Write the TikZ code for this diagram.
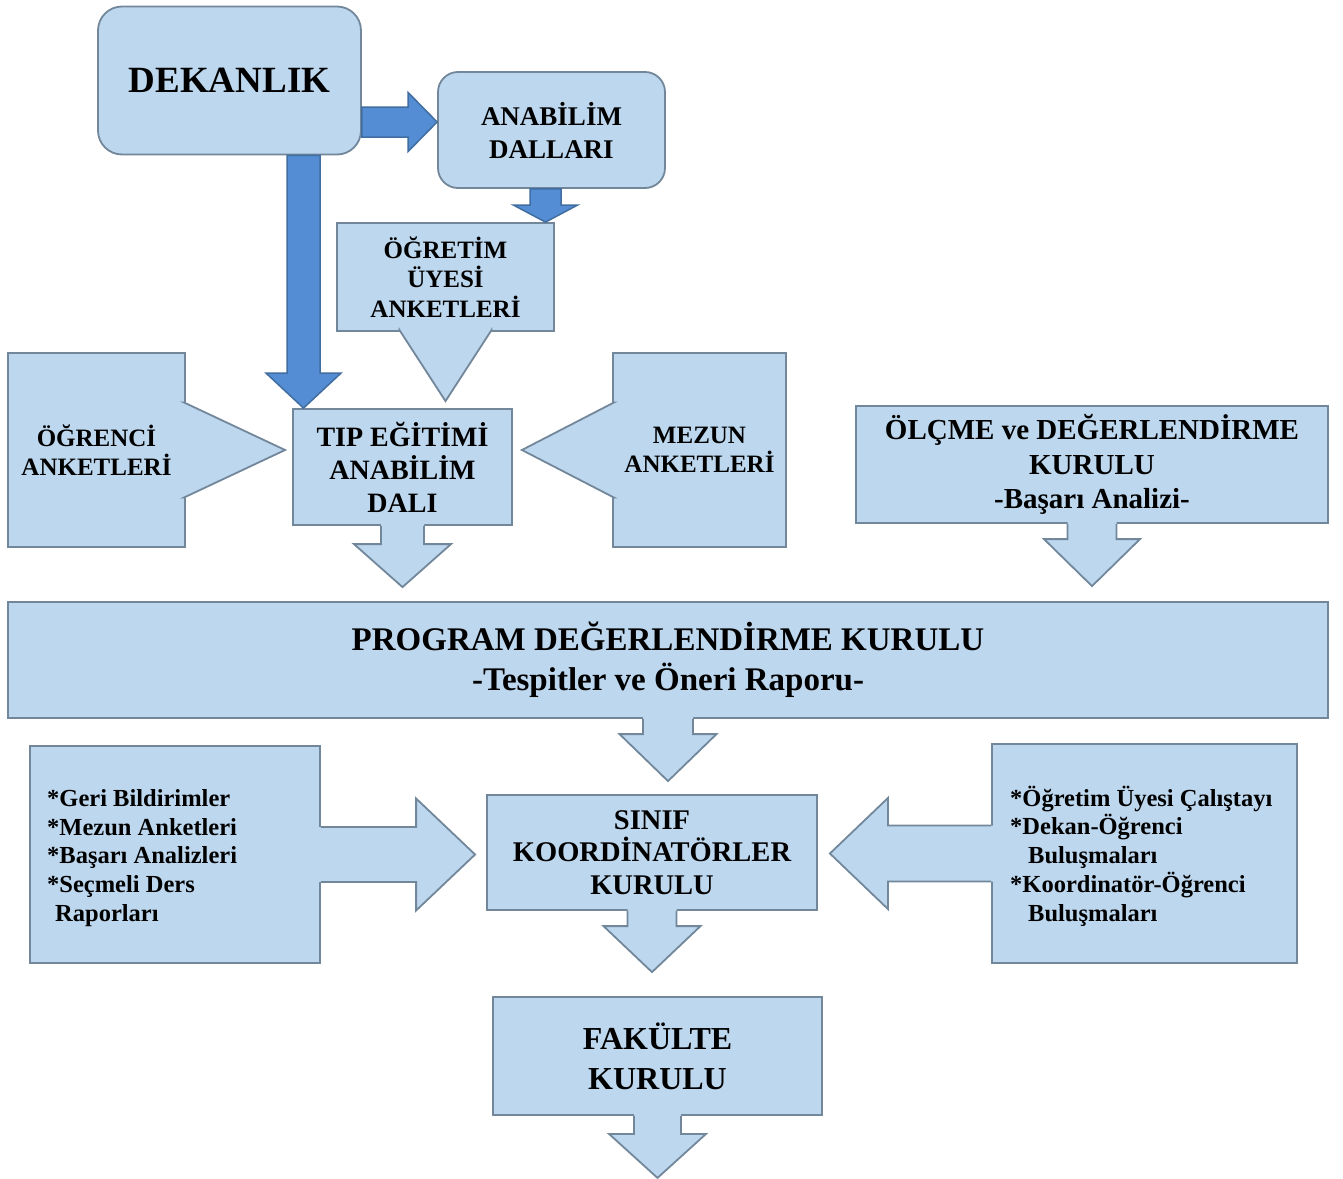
\documentclass[tikz,border=0pt]{standalone}
\usepackage{fontspec}
\setmainfont{LiberationSerif}[Extension=.ttf, UprightFont=*-Regular, BoldFont=*-Bold, ItalicFont=*-Italic, BoldItalicFont=*-BoldItalic]
\usetikzlibrary{calc}
\definecolor{boxfill}{RGB}{189,215,238}
\definecolor{boxline}{RGB}{115,135,155}
\definecolor{darkfill}{RGB}{84,141,212}
\definecolor{darkline}{RGB}{65,110,160}
\tikzset{
  box/.style={draw=boxline, fill=boxfill, line width=1.8pt, inner sep=0pt, align=center},
  rbox/.style={box, rounded corners=24pt},
  callline/.style={draw=boxline, line width=1.8pt, line join=miter},
  darkarrow/.style={draw=darkline, fill=darkfill, line width=1.5pt, line join=miter},
  txt/.style={inner sep=0pt, align=left, font=\fontsize{24.5}{28.7}\selectfont\bfseries}
}
% callout pointers: #1 start (on box edge), #2 tip, #3 shaft half width, #4 head half width, #5 head length
\newcommand\CallDown[5]{%
  \fill[boxfill] ($(#1)+(-#3,-2)$) -- ($(#2)+(-#3,-#5)$) -- ($(#2)+(-#4,-#5)$) -- (#2) -- ($(#2)+(#4,-#5)$) -- ($(#2)+(#3,-#5)$) -- ($(#1)+(#3,-2)$) -- cycle;
  \draw[callline] ($(#1)+(-#3,0)$) -- ($(#2)+(-#3,-#5)$) -- ($(#2)+(-#4,-#5)$) -- (#2) -- ($(#2)+(#4,-#5)$) -- ($(#2)+(#3,-#5)$) -- ($(#1)+(#3,0)$);}
\newcommand\CallRight[5]{%
  \fill[boxfill] ($(#1)+(-2,-#3)$) -- ($(#2)+(-#5,-#3)$) -- ($(#2)+(-#5,-#4)$) -- (#2) -- ($(#2)+(-#5,#4)$) -- ($(#2)+(-#5,#3)$) -- ($(#1)+(-2,#3)$) -- cycle;
  \draw[callline] ($(#1)+(0,-#3)$) -- ($(#2)+(-#5,-#3)$) -- ($(#2)+(-#5,-#4)$) -- (#2) -- ($(#2)+(-#5,#4)$) -- ($(#2)+(-#5,#3)$) -- ($(#1)+(0,#3)$);}
\newcommand\CallLeft[5]{%
  \fill[boxfill] ($(#1)+(2,-#3)$) -- ($(#2)+(#5,-#3)$) -- ($(#2)+(#5,-#4)$) -- (#2) -- ($(#2)+(#5,#4)$) -- ($(#2)+(#5,#3)$) -- ($(#1)+(2,#3)$) -- cycle;
  \draw[callline] ($(#1)+(0,-#3)$) -- ($(#2)+(#5,-#3)$) -- ($(#2)+(#5,-#4)$) -- (#2) -- ($(#2)+(#5,#4)$) -- ($(#2)+(#5,#3)$) -- ($(#1)+(0,#3)$);}
\newcommand\DarkRight[5]{%
  \draw[darkarrow] ($(#1)+(0,-#3)$) -- ($(#2)+(-#5,-#3)$) -- ($(#2)+(-#5,-#4)$) -- (#2) -- ($(#2)+(-#5,#4)$) -- ($(#2)+(-#5,#3)$) -- ($(#1)+(0,#3)$) -- cycle;}
\newcommand\DarkDown[5]{%
  \draw[darkarrow] ($(#1)+(-#3,0)$) -- ($(#2)+(-#3,-#5)$) -- ($(#2)+(-#4,-#5)$) -- (#2) -- ($(#2)+(#4,-#5)$) -- ($(#2)+(#3,-#5)$) -- ($(#1)+(#3,0)$) -- cycle;}
\begin{document}
\begin{tikzpicture}[x=1pt,y=-1pt]
\useasboundingbox (0,0) rectangle (1343,1178);
\fill[white] (0,0) rectangle (1343,1178);

% boxes
\node[rbox, minimum width=263pt, minimum height=148pt, font=\fontsize{37}{44}\selectfont\bfseries] (dek) at (229.5,80.5) {DEKANLIK};
\node[rbox, rounded corners=20pt, minimum width=227pt, minimum height=116pt, font=\fontsize{27}{33}\selectfont\bfseries] (ana) at (551.5,130) {ANABİLİM\\DALLARI};
\node[box, minimum width=217pt, minimum height=108pt, font=\fontsize{25}{29.5}\selectfont\bfseries] (ogt) at (445.5,277) {ÖĞRETİM\\ÜYESİ\\ANKETLERİ};
\node[box, minimum width=219pt, minimum height=116pt, font=\fontsize{28}{33}\selectfont\bfseries] (tip) at (402.5,467) {TIP EĞİTİMİ\\ANABİLİM\\DALI};
\node[box, minimum width=177pt, minimum height=194pt, font=\fontsize{25}{29}\selectfont\bfseries] (ogr) at (96.5,450) {ÖĞRENCİ\\ANKETLERİ};
\node[box, minimum width=173pt, minimum height=194pt, font=\fontsize{25}{29}\selectfont\bfseries] (mez) at (699.5,450) {MEZUN\\ANKETLERİ};
\node[box, minimum width=472pt, minimum height=117pt, font=\fontsize{29}{34.5}\selectfont\bfseries] (olc) at (1092,464.5) {ÖLÇME ve DEĞERLENDİRME\\KURULU\\-Başarı Analizi-};
\node[box, minimum width=1320pt, minimum height=116pt, font=\fontsize{33}{40}\selectfont\bfseries] (prog) at (668,660) {PROGRAM DEĞERLENDİRME KURULU\\-Tespitler ve Öneri Raporu-};
\node[box, minimum width=330pt, minimum height=115pt, font=\fontsize{28.5}{32.5}\selectfont\bfseries] (sin) at (652,852.5) {SINIF\\KOORDİNATÖRLER\\KURULU};
\node[box, minimum width=329pt, minimum height=118pt, font=\fontsize{32}{40}\selectfont\bfseries] (fak) at (657.5,1056) {FAKÜLTE\\KURULU};
\node[box, minimum width=290pt, minimum height=217pt] (lst) at (175,854.5) {};
\node[txt, anchor=west] (lsttx) at (47,858) {*Geri Bildirimler\\*Mezun Anketleri\\*Başarı Analizleri\\*Seçmeli Ders\\\hspace*{8pt}Raporları};
\node[box, minimum width=305pt, minimum height=219pt] (rst) at (1144.5,853.5) {};
\node[txt, anchor=west] (rsttx) at (1010,856) {*Öğretim Üyesi Çalıştayı\\*Dekan-Öğrenci\\\hspace*{18pt}Buluşmaları\\*Koordinatör-Öğrenci\\\hspace*{18pt}Buluşmaları};

% tip coordinates of the connectors
\coordinate (sA) at ($(dek.east)+(0,41.5)$);
\coordinate (tA) at (sA -| ana.west);
\coordinate (sB) at ($(dek.south)+(74,0)$);
\coordinate (tB) at (sB |- tip.north);
\coordinate (sC) at ($(ana.south)+(-6,0)$);
\coordinate (tC) at (sC |- ogt.north);
\coordinate (t1) at ($(ogt.south |- tip.north)+(0,-7)$);
\coordinate (t2) at ($(ogr.east -| tip.west)+(-7,0)$);
\coordinate (t3) at ($(mez.west -| tip.east)+(9,0)$);
\coordinate (t4) at ($(tip.south |- prog.north)+(0,-14)$);
\coordinate (t5) at ($(olc.south |- prog.north)+(0,-15)$);
\coordinate (t6) at ($(prog.south |- sin.north)+(0,-13)$);
\coordinate (t7) at ($(lst.east -| sin.west)+(-11,0)$);
\coordinate (t8) at ($(rst.west -| sin.east)+(12,0)$);
\coordinate (t9) at ($(sin.south |- fak.north)+(0,-24)$);
\coordinate (t10) at ($(fak.south)+(0,62)$);

% dark connectors
\DarkRight{sA}{tA}{15}{29.5}{29}
\DarkDown{sB}{tB}{16.5}{37.5}{35}
\DarkDown{sC}{tC}{15.5}{32}{17}

% callout pointers
\CallDown{ogt.south}{t1}{46}{46}{71}
\CallRight{ogr.east}{t2}{47.5}{47.5}{101}
\CallLeft{mez.west}{t3}{47.5}{47.5}{92}
\CallDown{tip.south}{t4}{21.5}{48.5}{43}
\CallDown{olc.south}{t5}{24.5}{48}{47}
\CallDown{prog.south}{t6}{25}{48.5}{47}
\CallRight{lst.east}{t7}{27.5}{56}{59}
\CallLeft{rst.west}{t8}{28}{55.5}{58}
\CallDown{sin.south}{t9}{24.5}{48.5}{46}
\CallDown{fak.south}{t10}{23.5}{48.5}{44}
\end{tikzpicture}
\end{document}
